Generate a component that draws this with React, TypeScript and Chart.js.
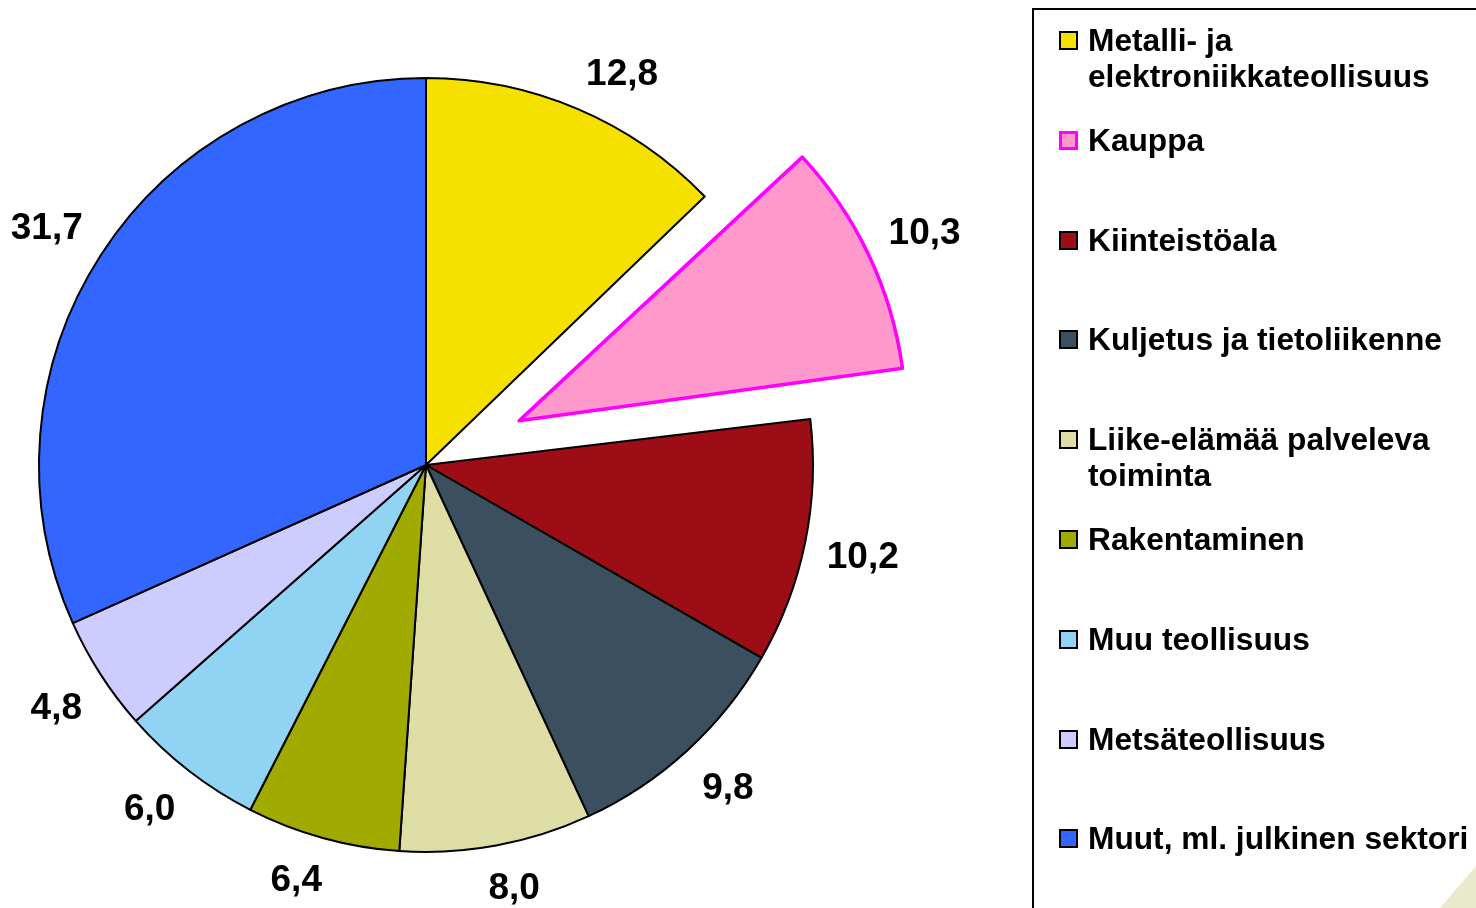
import React, { useEffect, useRef } from "react";
import { Chart, registerables } from "chart.js";

Chart.register(...registerables);

const categories: string[][] = [
  ["Metalli- ja", "elektroniikkateollisuus"],
  ["Kauppa"],
  ["Kiinteistöala"],
  ["Kuljetus ja tietoliikenne"],
  ["Liike-elämää palveleva", "toiminta"],
  ["Rakentaminen"],
  ["Muu teollisuus"],
  ["Metsäteollisuus"],
  ["Muut, ml. julkinen sektori"],
];
const values: number[] = [12.8, 10.3, 10.2, 9.8, 8.0, 6.4, 6.0, 4.8, 31.7];
const fillColors: string[] = [
  "#F6E000",
  "#FF99CC",
  "#9C0D15",
  "#3C4F5E",
  "#DDDDA5",
  "#A0AA00",
  "#90D3F2",
  "#CCCCFF",
  "#3366FF",
];
const borderColors: string[] = [
  "#000000",
  "#FF00FF",
  "#000000",
  "#000000",
  "#000000",
  "#000000",
  "#000000",
  "#000000",
  "#000000",
];
const explode: number[] = [0, 412, 0, 0, 0, 0, 0, 0, 0];

const FONT = "'Liberation Sans', Arial, sans-serif";

// Chart.js grows the radius of an offset arc; keep exploded slices at the pie's own radius.
const keepRadiusPlugin = {
  id: "keepRadius",
  beforeDatasetDraw(chart: any, args: any) {
    const meta = args.meta;
    const base = meta.controller.outerRadius;
    meta.data.forEach((arc: any) => {
      const off = (arc.options.offset || 0) / 4;
      const fix = 1 - Math.sin(Math.min(Math.PI, arc.circumference || 0));
      arc.outerRadius = base - off * fix;
    });
  },
};

const labelPlugin = {
  id: "outsideLabels",
  afterDatasetsDraw(chart: any) {
    const ctx = chart.ctx;
    const meta = chart.getDatasetMeta(0);
    const baseR = meta.controller.outerRadius;
    ctx.save();
    ctx.font = `bold 37px ${FONT}`;
    ctx.fillStyle = "#000";
    ctx.textAlign = "center";
    ctx.textBaseline = "middle";
    meta.data.forEach((arc: any, i: number) => {
      const { x, y, startAngle, endAngle } = arc.getProps(
        ["x", "y", "startAngle", "endAngle"],
        true
      );
      const mid = (startAngle + endAngle) / 2;
      const shift = (arc.options.offset || 0) / 4;
      const cx = x + Math.cos(mid) * shift;
      const cy = y + Math.sin(mid) * shift;
      const R = baseR + 22;
      const ax = cx + Math.cos(mid) * R;
      const ay = cy + Math.sin(mid) * R;
      const text = values[i].toFixed(1).replace(".", ",");
      const w = ctx.measureText(text).width;
      const h = 36;
      const kx = 3;
      const ky = 2;
      const fx = Math.max(-1, Math.min(1, Math.cos(mid) * kx));
      const fy = Math.max(-1, Math.min(1, Math.sin(mid) * ky));
      ctx.fillText(text, ax + (fx * w) / 2, ay + (fy * h) / 2 + 4);
    });
    ctx.restore();
  },
};

export default function App() {
  const ref = useRef<HTMLCanvasElement | null>(null);

  useEffect(() => {
    if (!ref.current) return;
    const chart = new Chart(ref.current, {
      type: "pie",
      data: {
        labels: categories.map((c) => c.join(" ")),
        datasets: [
          {
            data: values,
            backgroundColor: fillColors,
            borderColor: borderColors,
            borderWidth: values.map((_, i) => (i === 1 ? 3.5 : 2)),
            borderJoinStyle: "round",
            offset: explode,
            hoverOffset: 0,
          } as any,
        ],
      },
      options: {
        responsive: false,
        animation: false,
        radius: 387,
        rotation: 0,
        layout: { padding: { left: 0, right: 624, top: 22, bottom: 0 } },
        plugins: {
          legend: { display: false },
          tooltip: { enabled: false },
        },
        events: [],
      } as any,
      plugins: [keepRadiusPlugin, labelPlugin],
    });
    return () => chart.destroy();
  }, []);

  return (
    <div
      style={{
        position: "fixed",
        left: 0,
        top: 0,
        width: 1476,
        height: 908,
        overflow: "hidden",
        background: "#fff",
        fontFamily: FONT,
      }}
    >
      <canvas
        ref={ref}
        width={1476}
        height={908}
        style={{ position: "absolute", left: 0, top: 0, width: 1476, height: 908 }}
      />
      <div
        style={{
          position: "absolute",
          left: 1032,
          top: 8,
          width: 600,
          height: 1000,
          border: "2px solid #000",
          boxSizing: "border-box",
        }}
      />
      {categories.map((lines, i) => (
        <div
          key={i}
          style={{
            position: "absolute",
            left: 1059,
            top: 22 + i * 99.8,
            display: "flex",
            alignItems: "flex-start",
          }}
        >
          <div
            style={{
              width: 19,
              height: 19,
              marginTop: 9,
              boxSizing: "border-box",
              border: i === 1 ? "3px solid #FF00FF" : "2px solid #000",
              background: fillColors[i],
            }}
          />
          <div
            style={{
              marginLeft: 10,
              fontWeight: "bold",
              fontSize: 31.7,
              lineHeight: "36px",
              color: "#000",
              whiteSpace: "nowrap",
            }}
          >
            {lines.map((l, j) => (
              <div key={j}>{l}</div>
            ))}
          </div>
        </div>
      ))}
      <div
        style={{
          position: "absolute",
          left: 1440,
          top: 866,
          width: 36,
          height: 42,
          background: "#E8EACB",
          clipPath: "polygon(0% 100%, 100% 0%, 100% 100%)",
        }}
      />
    </div>
  );
}
